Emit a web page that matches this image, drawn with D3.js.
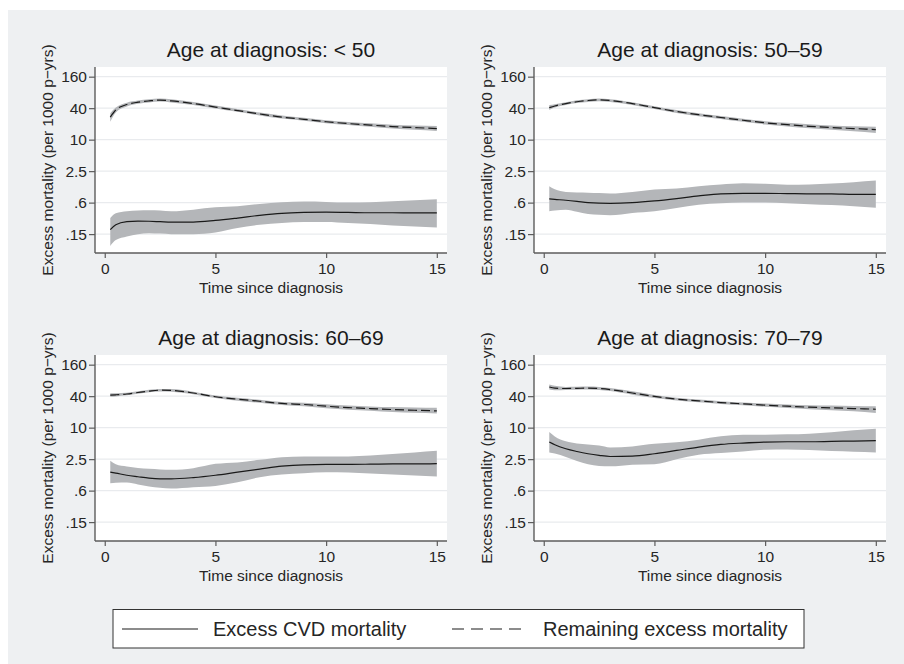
<!DOCTYPE html>
<html>
<head>
<meta charset="utf-8">
<script src="https://cdn.jsdelivr.net/npm/d3@7"></script>
<style>
  body { margin: 0; background: #fff; }
  text { font-family: "Liberation Sans", Arial, Helvetica, sans-serif; }
</style>
</head>
<body>
<div id="container"></div>
<script>
/* CONSTANTS AND GLOBALS */
const width = 904,
  height = 664;

/* DATA */
const panelTitles = ["Age at diagnosis: < 50", "Age at diagnosis: 50\u201359",
                     "Age at diagnosis: 60\u201369", "Age at diagnosis: 70\u201379"];
const time = [0.25, 0.5, 1, 1.5, 2, 2.5, 3, 4, 5, 6, 7, 8, 9, 10, 11, 12, 13, 14, 15];

const xTicks = [0, 5, 10, 15];
const yTicks = [160, 40, 10, 2.5, 0.625, 0.15625];
const yTickLabels = ["160", "40", "10", "2.5", ".6", ".15"];

const legendLabels = ["Excess CVD mortality", "Remaining excess mortality"];

// age < 50
const cvd1   = [0.19, 0.235, 0.27, 0.277, 0.275, 0.27, 0.265, 0.265, 0.285, 0.317, 0.357, 0.39, 0.405, 0.41, 0.405, 0.4, 0.4, 0.398, 0.398];
const cvdLo1 = [0.093, 0.12, 0.141, 0.155, 0.163, 0.16, 0.156, 0.156, 0.168, 0.204, 0.236, 0.254, 0.266, 0.266, 0.254, 0.243, 0.229, 0.219, 0.21];
const cvdHi1 = [0.317, 0.39, 0.426, 0.44, 0.445, 0.44, 0.426, 0.459, 0.508, 0.531, 0.589, 0.634, 0.653, 0.643, 0.625, 0.634, 0.663, 0.693, 0.724];
const rem1   = [27, 37, 47, 52, 55, 57, 55, 49, 42, 36, 31, 27, 24.5, 22, 20.3, 19, 17.8, 17, 16.3];
const remLo1 = [22, 33, 43, 48.5, 51.5, 53.5, 51.5, 46, 39.5, 34, 29, 25.3, 23, 20.6, 19, 17.6, 16.3, 15.4, 14.6];
const remHi1 = [32, 41, 51, 56, 59, 61, 59, 52.5, 45, 38.5, 33, 29, 26.2, 23.6, 21.8, 20.5, 19.3, 18.6, 18.2];

// age 50-59
const cvd2   = [0.735, 0.72, 0.693, 0.66, 0.625, 0.61, 0.607, 0.625, 0.673, 0.746, 0.84, 0.92, 0.94, 0.94, 0.93, 0.92, 0.92, 0.9, 0.9];
const cvdLo2 = [0.426, 0.44, 0.459, 0.42, 0.379, 0.365, 0.357, 0.396, 0.426, 0.494, 0.572, 0.607, 0.625, 0.625, 0.607, 0.58, 0.56, 0.531, 0.5];
const cvdHi2 = [1.29, 1.12, 1.0, 0.98, 0.97, 0.95, 0.93, 1.0, 1.11, 1.16, 1.29, 1.39, 1.47, 1.43, 1.37, 1.39, 1.45, 1.54, 1.65];
const rem2   = [41, 44, 49, 53, 56, 57.5, 56, 49, 41, 34.5, 30, 26.5, 23.5, 21, 19.4, 18, 17, 16.3, 15.6];
const remLo2 = [37, 41, 46, 50, 52.5, 54, 52.5, 46, 38.5, 32.3, 28, 24.7, 21.9, 19.5, 17.9, 16.5, 15.4, 14.4, 13.4];
const remHi2 = [46, 47.5, 52, 56.5, 59.5, 61, 59.5, 52, 43.5, 36.8, 32, 28.4, 25.2, 22.6, 21, 19.6, 18.6, 18, 17.6];

// age 60-69
const cvd3   = [1.41, 1.35, 1.23, 1.15, 1.08, 1.05, 1.05, 1.11, 1.23, 1.41, 1.61, 1.83, 1.95, 1.98, 1.98, 2.0, 2.03, 2.03, 2.06];
const cvdLo3 = [0.865, 0.88, 0.89, 0.82, 0.746, 0.71, 0.683, 0.724, 0.768, 0.9, 1.13, 1.27, 1.35, 1.41, 1.39, 1.33, 1.27, 1.21, 1.16];
const cvdHi3 = [2.32, 2.0, 1.81, 1.7, 1.63, 1.59, 1.56, 1.68, 2.03, 2.16, 2.43, 2.73, 2.82, 2.82, 2.82, 2.94, 3.12, 3.36, 3.61];
const rem3   = [42, 42.5, 44, 47, 50, 52, 51.5, 46, 39, 35, 32, 29, 27.7, 25.7, 24.2, 23.2, 22.2, 21.5, 20.9];
const remLo3 = [38.8, 39.5, 41.5, 44.5, 47.3, 49, 48.5, 43.3, 36.7, 32.8, 29.9, 27, 25.6, 23.6, 22, 21, 19.9, 19.2, 18.6];
const remHi3 = [45.7, 45.7, 46.7, 49.7, 52.8, 55, 54.6, 48.8, 41.4, 37.3, 34.2, 31.1, 29.9, 27.9, 26.5, 25.5, 24.7, 24.2, 23.9];

// age 70-79
const cvd4   = [5.3, 4.7, 3.95, 3.5, 3.17, 2.95, 2.81, 2.85, 3.17, 3.67, 4.25, 4.78, 5.08, 5.3, 5.38, 5.38, 5.46, 5.54, 5.63];
const cvdLo4 = [3.36, 3.2, 2.75, 2.3, 2.0, 1.85, 1.82, 1.95, 2.0, 2.5, 3.03, 3.26, 3.51, 3.78, 3.84, 3.72, 3.56, 3.46, 3.36];
const cvdHi4 = [8.26, 6.8, 5.5, 5.0, 4.78, 4.55, 4.19, 4.38, 4.93, 5.23, 5.88, 6.82, 7.34, 7.34, 7.45, 7.67, 8.14, 8.89, 9.57];
const rem4   = [60, 57, 56, 56.5, 57, 56, 53.5, 46, 39.5, 35, 32.5, 30.2, 28.5, 26.9, 25.7, 24.6, 23.9, 23.2, 22.5];
const remLo4 = [53.7, 52, 52.5, 53, 53.5, 52.3, 50, 42.8, 36.8, 33, 30.6, 28.4, 26.7, 25.1, 23.8, 22.6, 21.6, 20.5, 19.1];
const remHi4 = [67, 63, 60, 60.5, 61, 60, 57, 49.4, 42.3, 37.1, 34.5, 32.1, 30.4, 28.8, 27.7, 26.8, 26.4, 26, 25.7];

const panels = [
  { title: panelTitles[0], cvd: cvd1, cvdLo: cvdLo1, cvdHi: cvdHi1, rem: rem1, remLo: remLo1, remHi: remHi1 },
  { title: panelTitles[1], cvd: cvd2, cvdLo: cvdLo2, cvdHi: cvdHi2, rem: rem2, remLo: remLo2, remHi: remHi2 },
  { title: panelTitles[2], cvd: cvd3, cvdLo: cvdLo3, cvdHi: cvdHi3, rem: rem3, remLo: remLo3, remHi: remHi3 },
  { title: panelTitles[3], cvd: cvd4, cvdLo: cvdLo4, cvdHi: cvdHi4, rem: rem4, remLo: remLo4, remHi: remHi4 },
];

// LAYOUT
const colX = [95, 534],
  rowY = [67, 355],
  plotW = 352,
  plotH = 186;

const bandColor = "#b4b6b9",
  axisColor = "#5c5c5c",
  textColor = "#262626";

// CREATE SVG
const svg = d3.select("#container")
  .append("svg")
  .attr("width", width)
  .attr("height", height);

svg.append("rect")
  .attr("x", 8).attr("y", 10)
  .attr("width", width - 8).attr("height", height - 10)
  .attr("fill", "#eef0f2");

// SCALES (shared by every panel)
const xScale = d3.scaleLinear().domain([-0.44, 15.46]).range([0, plotW]);
const yScale = d3.scaleLog().domain([0.068, 245]).range([plotH, 0]);

const bandGen = d3.area()
  .x(d => xScale(d.t))
  .y0(d => yScale(d.lo))
  .y1(d => yScale(d.hi))
  .curve(d3.curveMonotoneX);

const lineGen = d3.line()
  .x(d => xScale(d.t))
  .y(d => yScale(d.v))
  .curve(d3.curveMonotoneX);

// DRAW PANELS
panels.forEach((p, i) => {
  const g = svg.append("g")
    .attr("transform", `translate(${colX[i % 2]}, ${rowY[Math.floor(i / 2)]})`);

  g.append("rect")
    .attr("width", plotW)
    .attr("height", plotH)
    .attr("fill", "white");

  // grid lines
  g.selectAll(".grid")
    .data(yTicks)
    .join("line")
    .attr("class", "grid")
    .attr("x1", 0).attr("x2", plotW)
    .attr("y1", d => yScale(d)).attr("y2", d => yScale(d))
    .attr("stroke", "#e9ebee")
    .attr("stroke-width", 1.2);

  const cvdRows = time.map((t, j) => ({ t, v: p.cvd[j], lo: p.cvdLo[j], hi: p.cvdHi[j] }));
  const remRows = time.map((t, j) => ({ t, v: p.rem[j], lo: p.remLo[j], hi: p.remHi[j] }));

  g.append("path").datum(remRows)
    .attr("d", bandGen)
    .attr("fill", bandColor);
  g.append("path").datum(cvdRows)
    .attr("d", bandGen)
    .attr("fill", bandColor);

  g.append("path").datum(remRows)
    .attr("d", lineGen)
    .attr("fill", "none")
    .attr("stroke", "#1a1a1a")
    .attr("stroke-width", 1.2)
    .attr("stroke-dasharray", "9,4");
  g.append("path").datum(cvdRows)
    .attr("d", lineGen)
    .attr("fill", "none")
    .attr("stroke", "#1a1a1a")
    .attr("stroke-width", 1.2);

  // axes
  const yAxis = g.append("g")
    .call(d3.axisLeft(yScale)
      .tickValues(yTicks)
      .tickFormat((d, k) => yTickLabels[k])
      .tickSize(6)
      .tickPadding(2));

  const xAxis = g.append("g")
    .attr("transform", `translate(0, ${plotH})`)
    .call(d3.axisBottom(xScale)
      .tickValues(xTicks)
      .tickSize(5)
      .tickPadding(5));

  [yAxis, xAxis].forEach(ax => {
    ax.select(".domain").attr("stroke", axisColor).attr("stroke-width", 1.4)
      .attr("d", ax === yAxis ? `M0,0V${plotH}` : `M0,0H${plotW}`);
    ax.selectAll(".tick line").attr("stroke", axisColor).attr("stroke-width", 1.2);
    ax.selectAll(".tick text")
      .attr("fill", textColor)
      .style("font-size", "15.5px")
      .style("font-family", "'Liberation Sans', Arial, sans-serif");
  });

  // titles
  g.append("text")
    .attr("x", plotW / 2)
    .attr("y", -10)
    .attr("text-anchor", "middle")
    .attr("fill", "#1a1a1a")
    .style("font-size", "21px")
    .text(p.title);

  g.append("text")
    .attr("x", plotW / 2)
    .attr("y", plotH + 40)
    .attr("text-anchor", "middle")
    .attr("fill", textColor)
    .style("font-size", "15.5px")
    .text("Time since diagnosis");

  g.append("text")
    .attr("transform", `translate(-42, ${plotH / 2}) rotate(-90)`)
    .attr("text-anchor", "middle")
    .attr("fill", textColor)
    .style("font-size", "15.5px")
    .text("Excess mortality (per 1000 p\u2212yrs)");
});

// LEGEND
const legend = svg.append("g");
legend.append("rect")
  .attr("x", 113).attr("y", 609.5)
  .attr("width", 691).attr("height", 38.5)
  .attr("fill", "white")
  .attr("stroke", "#333")
  .attr("stroke-width", 1);

const legendItems = [
  { label: legendLabels[0], x0: 122, x1: 198, tx: 213, dash: null },
  { label: legendLabels[1], x0: 452, x1: 522, tx: 543, dash: "12,7" },
];

legend.selectAll(".legend-line")
  .data(legendItems)
  .join("line")
  .attr("class", "legend-line")
  .attr("x1", d => d.x0).attr("x2", d => d.x1)
  .attr("y1", 629).attr("y2", 629)
  .attr("stroke", "#1a1a1a")
  .attr("stroke-width", 1.2)
  .attr("stroke-dasharray", d => d.dash);

legend.selectAll(".legend-text")
  .data(legendItems)
  .join("text")
  .attr("class", "legend-text")
  .attr("x", d => d.tx)
  .attr("y", 636)
  .attr("fill", textColor)
  .style("font-size", "20px")
  .text(d => d.label);
</script>
</body>
</html>
